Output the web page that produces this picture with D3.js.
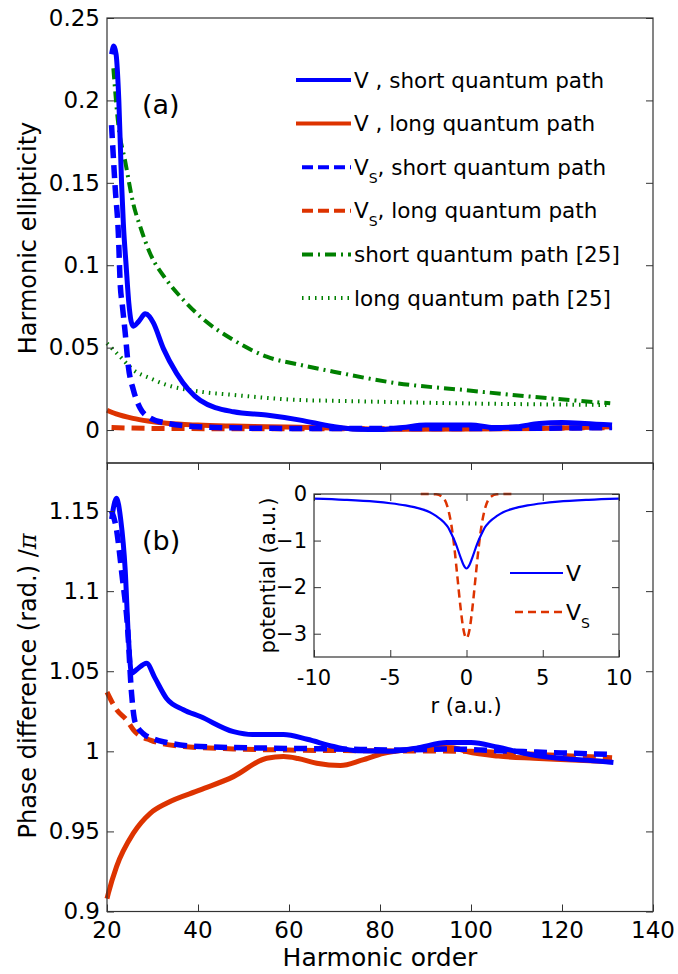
<html>
  <head>
    <title>ellipticity</title>
    <script src="https://d3js.org/d3.v7.min.js"></script>
    <style>
      body { margin: 0; background: #fff; }
      text { font-family: "DejaVu Sans", Verdana, sans-serif; fill: #000; }
    </style>
  </head>
  <body>
    <div id='wrapper'></div>
    <script>
      // ---- panel (a): harmonic ellipticity ----
      var aVShortH = [21, 21.5, 22, 22.6, 23.2, 23.6, 24.2, 24.8, 25.3, 25.8, 27, 28.4, 29.3, 30.2, 32.4, 35.3, 40.5, 47.8, 55, 62.5, 69.7, 75, 80, 85, 90, 95, 100, 105, 110, 115, 120, 125, 131];
      var aVShort  = [0.228, 0.233, 0.228, 0.2, 0.15, 0.125, 0.1, 0.077, 0.066, 0.063, 0.066, 0.0705, 0.069, 0.065, 0.0494, 0.0344, 0.018, 0.0111, 0.0091, 0.006, 0.0021, 0.0005, 0.0003, 0.0015, 0.003, 0.003, 0.003, 0.0015, 0.002, 0.004, 0.0045, 0.004, 0.003];
      var aVsShortH = [21, 21.8, 22.5, 22.9, 23.4, 24, 24.7, 25.8, 27.3, 29.5, 33.1, 40, 50, 60, 80, 100, 120, 131];
      var aVsShort  = [0.185, 0.147, 0.119, 0.089, 0.075, 0.059, 0.0385, 0.0243, 0.0132, 0.0073, 0.0042, 0.002, 0.0012, 0.001, 0.001, 0.001, 0.0012, 0.0015];
      var aVLongH = [20, 22, 25.7, 29, 33.1, 40, 47.7, 55, 65, 75, 85, 100, 115, 131];
      var aVLong  = [0.012, 0.0098, 0.0071, 0.0055, 0.0041, 0.003, 0.0024, 0.002, 0.0015, 0.0008, 0.0005, 0.0006, 0.001, 0.002];
      var aVsLongH = [21, 30, 50, 70, 90, 110, 131];
      var aVsLong  = [0.0015, 0.001, 0.0008, 0.0008, 0.0008, 0.001, 0.0015];
      var refShortH = [21.4, 22.5, 24, 25.8, 27.3, 29.5, 33.1, 36.8, 40.5, 47.8, 55.1, 62.5, 69.8, 83.7, 98.4, 113, 130.6];
      var refShort  = [0.2195, 0.185, 0.163, 0.137, 0.1234, 0.107, 0.091, 0.0789, 0.0688, 0.0546, 0.0445, 0.0395, 0.0354, 0.0284, 0.0243, 0.0203, 0.0162];
      var refLongH = [20, 22.9, 25.8, 29.5, 33.1, 40.5, 47.8, 62.5, 69, 98, 130.6];
      var refLong  = [0.0526, 0.0445, 0.0364, 0.0314, 0.0274, 0.0233, 0.0213, 0.0182, 0.0178, 0.0162, 0.0152];

      // ---- panel (b): phase difference / pi ----
      var bVShortH = [21, 22.1, 23, 24, 24.7, 25.4, 26.5, 28.7, 30.5, 33.1, 36.8, 40.5, 47.8, 52, 58.8, 64, 69.8, 75, 82, 88, 94.7, 100, 106, 113, 120, 128.4, 131.3];
      var bVShort  = [1.145, 1.158, 1.145, 1.1133, 1.0716, 1.0488, 1.051, 1.055, 1.046, 1.033, 1.026, 1.0217, 1.0123, 1.0105, 1.0105, 1.0075, 1.003, 1.0003, 1.0, 1.002, 1.0055, 1.0055, 1.0025, 0.998, 0.9955, 0.9938, 0.993];
      var bVsShortH = [21, 22, 23.3, 24.5, 25.4, 26.2, 28, 30, 33.1, 40.5, 55, 70, 85, 95, 105, 120, 131];
      var bVsShort  = [1.15, 1.14, 1.11, 1.078, 1.036, 1.018, 1.011, 1.008, 1.0055, 1.003, 1.002, 1.0015, 1.0008, 1.0015, 1.0005, 0.999, 0.998];
      var bVsLongH = [20, 22.1, 24.3, 25.8, 29.5, 36.8, 47.8, 60, 80, 100, 115, 131];
      var bVsLong  = [1.037, 1.026, 1.0196, 1.0134, 1.007, 1.003, 1.0015, 1.0008, 1.0003, 1.0, 0.998, 0.996];
      var bVLongH = [20, 20.3, 22.1, 25.8, 29.5, 33.1, 40.5, 47.8, 55.1, 58.8, 62, 66.1, 71.3, 76, 80.8, 86, 91.8, 96, 99.1, 106, 113.8, 121, 131];
      var bVLong  = [0.908, 0.9114, 0.928, 0.9489, 0.9613, 0.9676, 0.9759, 0.9842, 0.9957, 0.9967, 0.9955, 0.9926, 0.9912, 0.9945, 0.9988, 1.001, 1.0025, 1.0022, 0.9998, 0.997, 0.9957, 0.9948, 0.9935];

      // ---- inset: potentials ----
      var rV = [-10, -8, -6, -5, -4, -3, -2.4, -2, -1.5, -1.2, -1, -0.7, -0.4, -0.2, 0, 0.2, 0.4, 0.7, 1, 1.2, 1.5, 2, 2.4, 3, 4, 5, 6, 8, 10];
      var potV = [-0.1, -0.125, -0.165, -0.198, -0.245, -0.32, -0.39, -0.47, -0.6, -0.72, -0.85, -1.07, -1.35, -1.52, -1.6, -1.52, -1.35, -1.07, -0.85, -0.72, -0.6, -0.47, -0.39, -0.32, -0.245, -0.198, -0.165, -0.125, -0.1];
      var rVs = [-3, -2.4, -2, -1.6, -1.2, -1, -0.8, -0.6, -0.4, -0.2, 0, 0.2, 0.4, 0.6, 0.8, 1, 1.2, 1.6, 2, 2.4, 3];
      var potVs = [0, -0.002, -0.006, -0.057, -0.33, -0.65, -1.14, -1.77, -2.41, -2.91, -3.1, -2.91, -2.41, -1.77, -1.14, -0.65, -0.33, -0.057, -0.006, -0.002, 0];

      var xTicks = [20, 40, 60, 80, 100, 120, 140];
      var aTicks = [0, 0.05, 0.1, 0.15, 0.2, 0.25];
      var bTicks = [0.9, 0.95, 1, 1.05, 1.1, 1.15];
      var rTicks = [-10, -5, 0, 5, 10];
      var pTicks = [0, -1, -2, -3];

      var blue = "#0000ff", red = "#dd3300", green = "#008000", axisCol = "#333";

      var svg = d3.select("#wrapper").append("svg").attr("width", 678).attr("height", 974);

      var left = 107, right = 653;
      var x = d3.scaleLinear().domain([20, 140]).range([left, right]);
      var yA = d3.scaleLinear().domain([-0.02, 0.25]).range([463, 18]);
      var yB = d3.scaleLinear().domain([0.9, 1.18]).range([911.5, 463]);

      function zip(hs, vs) { return hs.map(function(h, i) { return [h, vs[i]]; }); }

      function drawLine(g, xs, ys, data, color, w, dash) {
        var line = d3.line().x(function(d) { return xs(d[0]); }).y(function(d) { return ys(d[1]); })
                     .curve(d3.curveMonotoneX);
        g.append("path").datum(data).attr("d", line)
         .attr("fill", "none").attr("stroke", color).attr("stroke-width", w)
         .attr("stroke-dasharray", dash || null).attr("stroke-linejoin", "round");
      }

      function frame(g, xs, ys, xt, yt, fs, showX, xBase) {
        var x0 = xs.range()[0], x1 = xs.range()[1], y0 = ys.range()[0], y1 = ys.range()[1];
        // ticks inward on all sides
        g.append("g").attr("transform", "translate(0," + y0 + ")")
         .call(d3.axisTop(xs).tickValues(showX ? xt : []).tickSize(7).tickFormat(""));
        g.append("g").attr("transform", "translate(0," + y1 + ")")
         .call(d3.axisBottom(xs).tickValues(showX ? xt : []).tickSize(7).tickFormat(""));
        g.append("g").attr("transform", "translate(" + x0 + ",0)")
         .call(d3.axisRight(ys).tickValues(yt).tickSize(7).tickFormat(""));
        g.append("g").attr("transform", "translate(" + x1 + ",0)")
         .call(d3.axisLeft(ys).tickValues(yt).tickSize(7).tickFormat(""));
        g.selectAll(".domain").remove();
        g.selectAll(".tick line").attr("stroke", axisCol);
        g.append("rect").attr("x", x0).attr("y", y1).attr("width", x1 - x0).attr("height", y0 - y1)
         .attr("fill", "none").attr("stroke", axisCol).attr("stroke-width", 1.2);
        // labels
        g.selectAll(".ylab").data(yt).enter().append("text")
         .attr("x", x0 - 7).attr("y", function(d) { return ys(d); }).attr("dy", "0.34em")
         .attr("text-anchor", "end").style("font-size", fs + "px")
         .text(function(d) { return d3.format("")(+d.toFixed(3)); });
        if (showX) {
          g.selectAll(".xlab").data(xt).enter().append("text")
           .attr("x", function(d) { return xs(d); }).attr("y", xBase)
           .attr("text-anchor", "middle").style("font-size", fs + "px").text(function(d) { return d; });
        }
      }

      // panel (a)
      var gA = svg.append("g");
      drawLine(gA, x, yA, zip(refLongH, refLong), green, 4, "1.5,5");
      drawLine(gA, x, yA, zip(refShortH, refShort), green, 4, "11,5,2,5");
      drawLine(gA, x, yA, zip(aVLongH, aVLong), red, 5);
      drawLine(gA, x, yA, zip(aVsLongH, aVsLong), red, 5, "13,7");
      drawLine(gA, x, yA, zip(aVShortH, aVShort), blue, 5);
      drawLine(gA, x, yA, zip(aVsShortH, aVsShort), blue, 5.5, "13,7");
      frame(gA, x, yA, xTicks, aTicks, 23, false);
      gA.append("text").attr("x", 142).attr("y", 114).style("font-size", "27px").text("(a)");
      gA.append("text").attr("transform", "translate(36," + 238 + ") rotate(-90)")
        .attr("text-anchor", "middle").style("font-size", "24px").text("Harmonic ellipticity");

      // legend (a)
      var legend = [
        { name: "V", sub: "", rest: " , short quantum path", color: blue, dash: null, w: 4 },
        { name: "V", sub: "", rest: " , long quantum path", color: red, dash: null, w: 4 },
        { name: "V", sub: "S", rest: ", short quantum path", color: blue, dash: "11,5", w: 4 },
        { name: "V", sub: "S", rest: ", long quantum path", color: red, dash: "11,5", w: 4 },
        { name: "", sub: "", rest: "short quantum path [25]", color: green, dash: "11,5,2,5", w: 4 },
        { name: "", sub: "", rest: "long quantum path [25]", color: green, dash: "1.5,5", w: 4 }
      ];
      legend.forEach(function(d, i) {
        var ly = 80 + i * 43.6;
        gA.append("line").attr("x1", d.dash ? 302 : 296).attr("x2", 351).attr("y1", ly).attr("y2", ly)
          .attr("stroke", d.color).attr("stroke-width", d.w).attr("stroke-dasharray", d.dash);
        var t = gA.append("text").attr("x", 354).attr("y", ly + 7.5).style("font-size", "21.5px");
        t.append("tspan").text(d.name);
        if (d.sub) t.append("tspan").attr("dy", 8).style("font-size", "14px").text(d.sub);
        t.append("tspan").attr("dy", d.sub ? -8 : 0).text(d.rest);
      });

      // panel (b)
      var gB = svg.append("g");
      drawLine(gB, x, yB, zip(bVLongH, bVLong), red, 5);
      drawLine(gB, x, yB, zip(bVsLongH, bVsLong), red, 5, "13,7");
      drawLine(gB, x, yB, zip(bVShortH, bVShort), blue, 5);
      drawLine(gB, x, yB, zip(bVsShortH, bVsShort), blue, 5.5, "13,7");
      frame(gB, x, yB, xTicks, bTicks, 23, true, 938);
      gB.append("text").attr("x", 142).attr("y", 550).style("font-size", "27px").text("(b)");
      var yl = gB.append("text").attr("transform", "translate(36," + 686 + ") rotate(-90)")
        .attr("text-anchor", "middle").style("font-size", "24px");
      yl.append("tspan").text("Phase difference (rad.) /");
      yl.append("tspan").style("font-style", "italic").style("font-family", "'DejaVu Serif', serif").text("π");
      gB.append("text").attr("x", (left + right) / 2).attr("y", 966).attr("text-anchor", "middle")
        .style("font-size", "25px").text("Harmonic order");

      // inset
      var xi = d3.scaleLinear().domain([-10, 10]).range([314, 619]);
      var yi = d3.scaleLinear().domain([-3.5, 0]).range([657, 494]);
      var gI = svg.append("g");
      gI.append("rect").attr("x", 314).attr("y", 494).attr("width", 305).attr("height", 163).attr("fill", "#fff");
      drawLine(gI, xi, yi, zip(rVs, potVs), red, 2.5, "8,5");
      drawLine(gI, xi, yi, zip(rV, potV), blue, 2.2);
      frame(gI, xi, yi, rTicks, pTicks, 21, true, 685);
      gI.append("text").attr("x", 466).attr("y", 713).attr("text-anchor", "middle")
        .style("font-size", "21px").text("r (a.u.)");
      gI.append("text").attr("transform", "translate(275,575.5) rotate(-90)").attr("text-anchor", "middle")
        .style("font-size", "21px").text("potential (a.u.)");
      gI.append("line").attr("x1", 510).attr("x2", 563).attr("y1", 573).attr("y2", 573)
        .attr("stroke", blue).attr("stroke-width", 2.2);
      gI.append("text").attr("x", 566).attr("y", 581).style("font-size", "22px").text("V");
      gI.append("line").attr("x1", 515).attr("x2", 563).attr("y1", 612).attr("y2", 612)
        .attr("stroke", red).attr("stroke-width", 2.5).attr("stroke-dasharray", "8,5");
      var vs = gI.append("text").attr("x", 566).attr("y", 620).style("font-size", "22px");
      vs.append("tspan").text("V");
      vs.append("tspan").attr("dy", 8).style("font-size", "14px").text("S");
    </script>
  </body>
</html>
